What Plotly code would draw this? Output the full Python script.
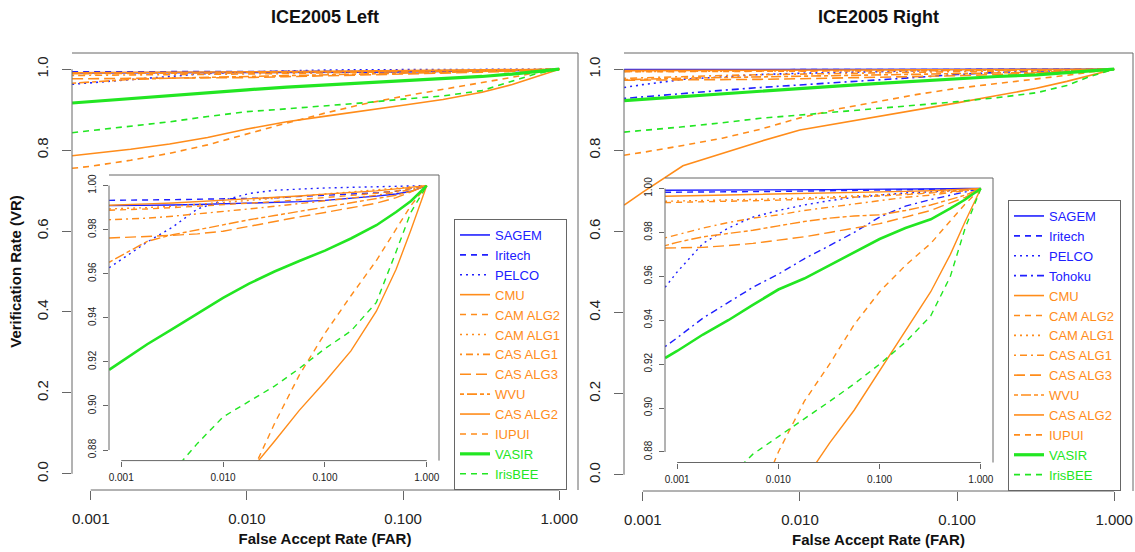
import math
import plotly.graph_objects as go

# ---------------- data ----------------
FAR = [0.00076, 0.001, 0.0018, 0.0032, 0.0056, 0.01, 0.018, 0.032, 0.056,
       0.1, 0.18, 0.32, 0.5, 0.7, 1.0]

# ICE2005 Left - verification rate at each FAR
L_SAGEM = [0.9909, 0.9909, 0.9911, 0.9912, 0.9914, 0.9917, 0.9920, 0.9923, 0.9927, 0.9933, 0.9941, 0.9952, 0.9962, 0.9974, 1.0]
L_IRITECH = [0.9933, 0.9933, 0.9935, 0.9936, 0.9938, 0.9939, 0.9942, 0.9945, 0.9950, 0.9955, 0.9961, 0.9967, 0.9974, 0.9985, 1.0]
L_PELCO = [0.9627, 0.9664, 0.9744, 0.9812, 0.9894, 0.9933, 0.9964, 0.9979, 0.9985, 0.9989, 0.9992, 0.9995, 0.9997, 0.9998, 1.0]
L_CMU = [0.9911, 0.9912, 0.9917, 0.9921, 0.9927, 0.9933, 0.9939, 0.9945, 0.9953, 0.9961, 0.9968, 0.9976, 0.9985, 0.9992, 1.0]
L_CAM_ALG2 = [0.755, 0.760, 0.775, 0.792, 0.813, 0.840, 0.867, 0.892, 0.914, 0.933, 0.950, 0.966, 0.980, 0.991, 1.0]
L_CAM_ALG1 = [0.9894, 0.9895, 0.9900, 0.9906, 0.9914, 0.9923, 0.9932, 0.9942, 0.9952, 0.9962, 0.9971, 0.9982, 0.9989, 0.9995, 1.0]
L_CAS_ALG1 = [0.9845, 0.9847, 0.9852, 0.9861, 0.9871, 0.9882, 0.9894, 0.9906, 0.9918, 0.9930, 0.9942, 0.9956, 0.9970, 0.9982, 1.0]
L_CAS_ALG3 = [0.9762, 0.9764, 0.9769, 0.9774, 0.9781, 0.9793, 0.9815, 0.9838, 0.9858, 0.9878, 0.9898, 0.9920, 0.9945, 0.9970, 1.0]
L_WVU = [0.9652, 0.9682, 0.9747, 0.9777, 0.9800, 0.9823, 0.9845, 0.9864, 0.9883, 0.9902, 0.9921, 0.9939, 0.9956, 0.9974, 1.0]
L_CAS_ALG2 = [0.786, 0.791, 0.802, 0.815, 0.831, 0.852, 0.870, 0.884, 0.898, 0.911, 0.925, 0.943, 0.962, 0.980, 1.0]
L_IUPUI = [0.9888, 0.9889, 0.9894, 0.9900, 0.9906, 0.9912, 0.9920, 0.9927, 0.9936, 0.9945, 0.9955, 0.9965, 0.9976, 0.9986, 1.0]
L_VASIR = [0.9164, 0.9200, 0.9280, 0.9350, 0.9420, 0.9490, 0.9555, 0.9610, 0.9658, 0.9705, 0.9760, 0.9820, 0.9880, 0.9930, 1.0]
L_IRISBEE = [0.843, 0.848, 0.858, 0.870, 0.883, 0.895, 0.902, 0.909, 0.917, 0.926, 0.934, 0.947, 0.970, 0.988, 1.0]

# ICE2005 Right
R_SAGEM = [0.9992, 0.9992, 0.9993, 0.9993, 0.9994, 0.9994, 0.9995, 0.9995, 0.9996, 0.9996, 0.9997, 0.9998, 0.9999, 1.0, 1.0]
R_IRITECH = [0.9983, 0.9983, 0.9984, 0.9985, 0.9986, 0.9987, 0.9988, 0.9989, 0.9990, 0.9991, 0.9993, 0.9995, 0.9997, 0.9998, 1.0]
R_PELCO = [0.955, 0.962, 0.975, 0.982, 0.987, 0.990, 0.9925, 0.9945, 0.996, 0.997, 0.998, 0.9985, 0.999, 0.9995, 1.0]
R_TOHOKU = [0.928, 0.932, 0.941, 0.948, 0.955, 0.961, 0.968, 0.974, 0.980, 0.987, 0.992, 0.995, 0.997, 0.9985, 1.0]
R_CMU = [0.9965, 0.9966, 0.9968, 0.9970, 0.9972, 0.9974, 0.9976, 0.9978, 0.9981, 0.9984, 0.9987, 0.9990, 0.9994, 0.9997, 1.0]
R_CAM_ALG2 = [0.788, 0.795, 0.812, 0.830, 0.852, 0.880, 0.903, 0.920, 0.938, 0.953, 0.965, 0.975, 0.985, 0.993, 1.0]
R_CAM_ALG1 = [0.9942, 0.9943, 0.9945, 0.9947, 0.9950, 0.9953, 0.9957, 0.9961, 0.9966, 0.9971, 0.9976, 0.9982, 0.9988, 0.9994, 1.0]
R_CAS_ALG1 = [0.9775, 0.979, 0.982, 0.9845, 0.9865, 0.988, 0.990, 0.9915, 0.993, 0.9945, 0.996, 0.997, 0.998, 0.999, 1.0]
R_CAS_ALG3 = [0.9729, 0.9730, 0.9732, 0.9740, 0.9750, 0.9765, 0.9780, 0.9800, 0.9820, 0.9840, 0.9870, 0.9900, 0.9935, 0.9960, 1.0]
R_WVU = [0.974, 0.9755, 0.978, 0.9795, 0.981, 0.983, 0.985, 0.9865, 0.9875, 0.988, 0.990, 0.9925, 0.995, 0.997, 1.0]
R_CAS_ALG2 = [0.665, 0.697, 0.762, 0.793, 0.822, 0.850, 0.867, 0.884, 0.899, 0.917, 0.935, 0.953, 0.970, 0.985, 1.0]
R_IUPUI = [0.9936, 0.9937, 0.9939, 0.9941, 0.9944, 0.9947, 0.9951, 0.9955, 0.9960, 0.9966, 0.9972, 0.9979, 0.9986, 0.9993, 1.0]
R_VASIR = [0.9228, 0.926, 0.9335, 0.940, 0.947, 0.954, 0.959, 0.965, 0.971, 0.977, 0.982, 0.986, 0.991, 0.995, 1.0]
R_IRISBEE = [0.845, 0.849, 0.858, 0.868, 0.879, 0.887, 0.895, 0.903, 0.911, 0.920, 0.930, 0.942, 0.960, 0.982, 1.0]

LEFT_NAMES = ["SAGEM", "Iritech", "PELCO", "CMU", "CAM ALG2", "CAM ALG1", "CAS ALG1",
              "CAS ALG3", "WVU", "CAS ALG2", "IUPUI", "VASIR", "IrisBEE"]
LEFT_VALUES = [L_SAGEM, L_IRITECH, L_PELCO, L_CMU, L_CAM_ALG2, L_CAM_ALG1, L_CAS_ALG1,
               L_CAS_ALG3, L_WVU, L_CAS_ALG2, L_IUPUI, L_VASIR, L_IRISBEE]
RIGHT_NAMES = ["SAGEM", "Iritech", "PELCO", "Tohoku", "CMU", "CAM ALG2", "CAM ALG1", "CAS ALG1",
               "CAS ALG3", "WVU", "CAS ALG2", "IUPUI", "VASIR", "IrisBEE"]
RIGHT_VALUES = [R_SAGEM, R_IRITECH, R_PELCO, R_TOHOKU, R_CMU, R_CAM_ALG2, R_CAM_ALG1, R_CAS_ALG1,
                R_CAS_ALG3, R_WVU, R_CAS_ALG2, R_IUPUI, R_VASIR, R_IRISBEE]

X_TICKS = [0.001, 0.01, 0.1, 1.0]
X_TICK_TEXT = ["0.001", "0.010", "0.100", "1.000"]
MAIN_Y_TICKS = [0.0, 0.2, 0.4, 0.6, 0.8, 1.0]
MAIN_Y_TEXT = ["0.0", "0.2", "0.4", "0.6", "0.8", "1.0"]
INSET_Y_TICKS = [0.88, 0.90, 0.92, 0.94, 0.96, 0.98, 1.00]
INSET_Y_TEXT = ["0.88", "0.90", "0.92", "0.94", "0.96", "0.98", "1.00"]

PANEL_TITLES = ["ICE2005 Left", "ICE2005 Right"]
X_TITLE = "False Accept Rate (FAR)"
Y_TITLE = "Verification Rate (VR)"

# ---------------- styling ----------------
W, H = 1135, 552
FONT = "Liberation Sans, Arial, Helvetica, sans-serif"
AXIS_COLOR = "#666666"
BLUE, ORANGE, GREEN = "#2020ff", "#ff8c1a", "#22e622"
DASH = {"solid": "solid", "dashed": "6px,5px", "dotted": "2px,4px",
        "dotdash": "2px,4px,7px,4px", "longdash": "11px,5px", "twodash": "4px,3px,10px,3px"}
STYLE = {
    "SAGEM": (BLUE, "solid"), "Iritech": (BLUE, "dashed"), "PELCO": (BLUE, "dotted"),
    "Tohoku": (BLUE, "dotdash"), "CMU": (ORANGE, "solid"), "CAM ALG2": (ORANGE, "dashed"),
    "CAM ALG1": (ORANGE, "dotted"), "CAS ALG1": (ORANGE, "dotdash"), "CAS ALG3": (ORANGE, "longdash"),
    "WVU": (ORANGE, "twodash"), "CAS ALG2": (ORANGE, "solid"), "IUPUI": (ORANGE, "dashed"),
    "VASIR": (GREEN, "solid"), "IrisBEE": (GREEN, "dashed"),
}

X_RANGE = [math.log10(X_TICKS[0]) - 0.12, math.log10(X_TICKS[-1]) + 0.12]
MAIN_Y_RANGE = [-0.04, 1.04]
INSET_Y_RANGE = [0.88 - 0.0048, 1.0 + 0.0048]


def dom_x(a, b):
    return [a / W, b / W]


def dom_y(top, bottom):
    return [1 - bottom / H, 1 - top / H]


PANELS = [
    dict(names=LEFT_NAMES, values=LEFT_VALUES, main=("x", "y"), inset=("x2", "y2"),
         main_dom=(dom_x(72, 578), dom_y(53, 490)), inset_dom=(dom_x(109, 439), dom_y(175, 460.6)),
         legend="legend", legend_pos=(454, 490), title=PANEL_TITLES[0], ytitle=True),
    dict(names=RIGHT_NAMES, values=RIGHT_VALUES, main=("x3", "y3"), inset=("x4", "y4"),
         main_dom=(dom_x(624, 1133), dom_y(53, 491)), inset_dom=(dom_x(665, 993), dom_y(178, 462.5)),
         legend="legend2", legend_pos=(1008, 491), title=PANEL_TITLES[1], ytitle=False),
]

fig = go.Figure()
shapes = []
annotations = []
layout = {}


def frac(v, rng, log=False):
    v = math.log10(v) if log else v
    return (v - rng[0]) / (rng[1] - rng[0])


def axis_name(ref):
    return ("xaxis" if ref[0] == "x" else "yaxis") + ref[1:]


for p in PANELS:
    for which in ("main", "inset"):
        xr, yr = p[which]
        is_main = which == "main"
        for name, vals in zip(p["names"], p["values"]):
            color, dash = STYLE[name]
            if name == "VASIR":
                width = 3.2 if is_main else 2.6
            else:
                width = 1.6 if is_main else 1.4
            fig.add_trace(go.Scatter(
                x=FAR, y=vals, mode="lines", xaxis=xr, yaxis=yr,
                name=f"<span style='color:{color}'>{name}</span>",
                line=dict(color=color, dash=DASH[dash], width=width),
                showlegend=is_main, legend=p["legend"], hoverinfo="skip"))

        xd, yd = p["main_dom"] if is_main else p["inset_dom"]
        tfs = 15 if is_main else 10
        tl = 9 if is_main else 5
        yticks = MAIN_Y_TICKS if is_main else INSET_Y_TICKS
        ytext = MAIN_Y_TEXT if is_main else INSET_Y_TEXT
        yrange = MAIN_Y_RANGE if is_main else INSET_Y_RANGE
        xa = dict(domain=xd, type="log", range=X_RANGE, anchor=yr, tickvals=X_TICKS,
                  ticktext=X_TICK_TEXT, ticks="outside", ticklen=tl, tickcolor=AXIS_COLOR,
                  tickwidth=1, showline=False, showgrid=False, zeroline=False,
                  tickfont=dict(size=tfs, color="#222222", family=FONT),
                  ticklabelstandoff=6 if is_main else 2)
        ya = dict(domain=yd, range=yrange, anchor=xr, tickvals=yticks, ticktext=ytext,
                  ticks="outside", ticklen=tl, tickcolor=AXIS_COLOR, tickwidth=1,
                  showline=False, showgrid=False, zeroline=False, tickangle=-90,
                  tickfont=dict(size=tfs, color="#222222", family=FONT),
                  ticklabelstandoff=8 if is_main else 3)
        if is_main:
            xa["title"] = dict(text=X_TITLE, font=dict(size=15, family=FONT, color="#111111",
                                                       weight="bold"), standoff=7)
            if p["ytitle"]:
                ya["title"] = dict(text=Y_TITLE, font=dict(size=15, family=FONT, color="#111111",
                                                           weight="bold"), standoff=8)
        layout[axis_name(xr)] = xa
        layout[axis_name(yr)] = ya

        xref, yref = f"{xr} domain", f"{yr} domain"
        ln = dict(color=AXIS_COLOR, width=1)
        # axis lines from first to last tick, plus top and right border
        shapes.append(dict(type="line", xref=xref, yref=yref, line=ln,
                           x0=frac(X_TICKS[0], X_RANGE, True), x1=frac(X_TICKS[-1], X_RANGE, True),
                           y0=0, y1=0))
        shapes.append(dict(type="line", xref=xref, yref=yref, line=ln, x0=0, x1=0,
                           y0=frac(yticks[0], yrange), y1=frac(yticks[-1], yrange)))
        shapes.append(dict(type="line", xref=xref, yref=yref, line=ln, x0=0, x1=1, y0=1, y1=1))
        shapes.append(dict(type="line", xref=xref, yref=yref, line=ln, x0=1, x1=1, y0=0, y1=1))

    # panel title
    xd, yd = p["main_dom"]
    annotations.append(dict(text=p["title"], xref="paper", yref="paper", x=(xd[0] + xd[1]) / 2,
                            y=1 - 17 / H, xanchor="center", yanchor="middle", showarrow=False,
                            font=dict(size=18, family=FONT, color="#111111", weight="bold")))
    lx, lb = p["legend_pos"]
    layout[p["legend"]] = dict(x=lx / W, y=1 - lb / H, xanchor="left", yanchor="bottom",
                               bgcolor="white", bordercolor=AXIS_COLOR, borderwidth=1,
                               font=dict(size=13, family=FONT), traceorder="normal",
                               itemwidth=30, tracegroupgap=0)

fig.update_layout(
    width=W, height=H, margin=dict(l=0, r=0, t=0, b=0),
    paper_bgcolor="white", plot_bgcolor="white",
    font=dict(family=FONT, color="#222222"),
    shapes=shapes, annotations=annotations, **layout)

fig.write_html("out.html", config={"displayModeBar": False},
               post_script="document.body.style.margin='0';document.body.style.overflow='hidden';")
